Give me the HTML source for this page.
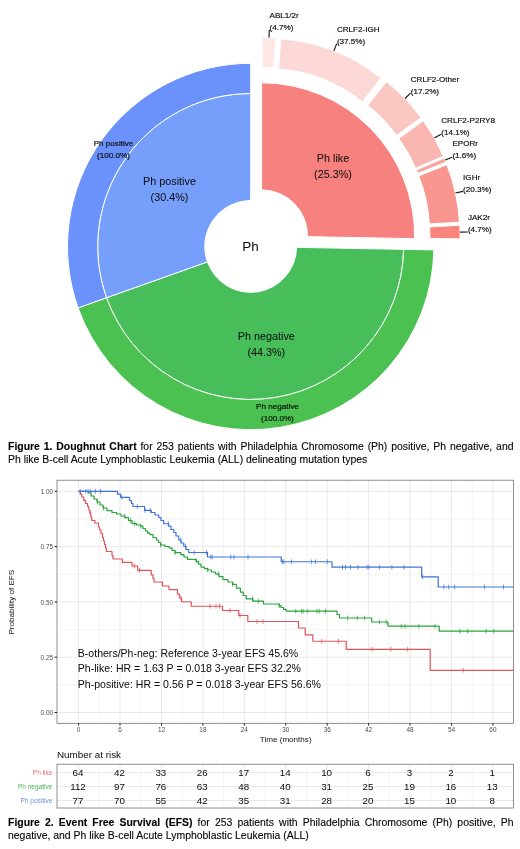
<!DOCTYPE html>
<html><head><meta charset="utf-8"><title>Figure</title>
<style>
html,body{margin:0;padding:0;background:#fff;}
body{width:520px;height:849px;position:relative;overflow:hidden;font-family:"Liberation Sans",sans-serif;}
svg{position:absolute;left:0;top:0;will-change:transform;}
svg text{font-family:"Liberation Sans",sans-serif;fill:#0a0a0a;}
.dl{stroke:#0a0a0a;stroke-width:0.16px;}
.dl{font-size:8.1px;}
.pl{font-size:10.8px;}
.ct{font-size:13.5px;}
.ax{font-size:6.4px;fill:#4d4d4d;}
.at{font-size:8.1px;fill:#111;}
.an{font-size:10.55px;}
.nr{font-size:9.85px;}
.rv{font-size:9.8px;}
.rl{font-size:6.55px;}
.cap{will-change:transform;position:absolute;left:7.5px;width:505.5px;font-size:10.45px;line-height:14px;color:#000;white-space:nowrap;-webkit-text-stroke:0.1px #000;}
.j{text-align:justify;text-align-last:justify;}
</style></head><body>
<svg width="520" height="849" viewBox="0 0 520 849">
<g id="donut">
<path d="M403.67,249.35A153.00,153.00 0 0 1 106.53,297.74L207.45,261.87A45.90,45.90 0 0 0 296.59,247.35Z" fill="#47BE5A" stroke="#fff" stroke-width="1.0"/>
<path d="M106.53,297.74A153.00,153.00 0 0 1 250.70,93.50L250.70,200.60A45.90,45.90 0 0 0 207.45,261.87Z" fill="#769FFB" stroke="#fff" stroke-width="1.0"/>
<path d="M261.62,82.78A153.00,153.00 0 0 1 414.59,238.63L307.51,236.64A45.90,45.90 0 0 0 261.62,189.88Z" fill="#F6817E" stroke="#fff" stroke-width="1.0"/>
<path d="M433.87,249.91A183.20,183.20 0 0 1 78.08,307.85L106.53,297.74A153.00,153.00 0 0 0 403.67,249.35Z" fill="#4AC150" stroke="#fff" stroke-width="1.0"/>
<path d="M78.08,307.85A183.20,183.20 0 0 1 250.70,63.30L250.70,93.50A153.00,153.00 0 0 0 106.53,297.74Z" fill="#6A92FA" stroke="#fff" stroke-width="1.0"/>
<path d="M262.19,37.29A183.20,183.20 0 0 1 275.83,37.80L273.58,67.92A153.00,153.00 0 0 0 262.19,67.49Z" fill="#FDE7E5" stroke="#fff" stroke-width="1.0"/>
<path d="M280.82,38.84A183.20,183.20 0 0 1 381.03,78.00L362.26,101.66A153.00,153.00 0 0 0 278.58,68.96Z" fill="#FCD9D6" stroke="#fff" stroke-width="1.0"/>
<path d="M386.51,81.67A183.20,183.20 0 0 1 421.02,117.70L396.56,135.42A153.00,153.00 0 0 0 367.75,105.33Z" fill="#FBC7C3" stroke="#fff" stroke-width="1.0"/>
<path d="M423.28,120.74A183.20,183.20 0 0 1 443.42,156.30L415.64,168.16A153.00,153.00 0 0 0 398.82,138.47Z" fill="#FAB6B1" stroke="#fff" stroke-width="1.0"/>
<path d="M444.25,158.01A183.20,183.20 0 0 1 445.98,162.21L417.92,173.38A153.00,153.00 0 0 0 416.47,169.87Z" fill="#F9A59F" stroke="#fff" stroke-width="1.0"/>
<path d="M446.78,164.75A183.20,183.20 0 0 1 459.47,222.25L429.32,223.94A153.00,153.00 0 0 0 418.72,175.91Z" fill="#F8958E" stroke="#fff" stroke-width="1.0"/>
<path d="M459.83,225.27A183.20,183.20 0 0 1 460.08,238.91L429.89,238.35A153.00,153.00 0 0 0 429.68,226.95Z" fill="#F8847C" stroke="#fff" stroke-width="1.0"/>
<path d="M269.01,37.42L269.30,29.78" stroke="#111" stroke-width="1.1" fill="none"/>
<text x="269.5" y="18.2" class="dl">ABL1/2r</text>
<text x="269.5" y="30.2" class="dl">(4.7%)</text>
<path d="M333.87,50.90L336.65,43.77" stroke="#111" stroke-width="1.1" fill="none"/>
<text x="336.9" y="32.2" class="dl">CRLF2-IGH</text>
<text x="336.9" y="44.2" class="dl">(37.5%)</text>
<path d="M405.00,98.50L410.52,93.21" stroke="#111" stroke-width="1.1" fill="none"/>
<text x="410.7" y="81.6" class="dl">CRLF2-Other</text>
<text x="410.7" y="93.6" class="dl">(17.2%)</text>
<path d="M434.34,137.96L441.00,134.19" stroke="#111" stroke-width="1.1" fill="none"/>
<text x="441.2" y="122.6" class="dl">CRLF2-P2RY8</text>
<text x="441.2" y="134.6" class="dl">(14.1%)</text>
<path d="M445.13,160.10L452.20,157.19" stroke="#111" stroke-width="1.1" fill="none"/>
<text x="452.4" y="145.6" class="dl">EPORr</text>
<text x="452.4" y="157.6" class="dl">(1.6%)</text>
<path d="M455.45,192.99L462.92,191.34" stroke="#111" stroke-width="1.1" fill="none"/>
<text x="463.1" y="179.7" class="dl">IGHr</text>
<text x="463.1" y="191.7" class="dl">(20.3%)</text>
<path d="M460.08,232.09L467.73,231.94" stroke="#111" stroke-width="1.1" fill="none"/>
<text x="467.9" y="220.3" class="dl">JAK2r</text>
<text x="467.9" y="232.3" class="dl">(4.7%)</text>
<text x="113.5" y="146.4" class="dl" text-anchor="middle">Ph positive</text>
<text x="113.5" y="158" class="dl" text-anchor="middle">(100.0%)</text>
<text x="277.4" y="409.2" class="dl" text-anchor="middle">Ph negative</text>
<text x="277.4" y="420.8" class="dl" text-anchor="middle">(100.0%)</text>
<text x="169.5" y="185.4" class="pl" text-anchor="middle">Ph positive</text>
<text x="169.5" y="201.3" class="pl" text-anchor="middle">(30.4%)</text>
<text x="333" y="161.5" class="pl" text-anchor="middle">Ph like</text>
<text x="333" y="177.7" class="pl" text-anchor="middle">(25.3%)</text>
<text x="266.3" y="340.2" class="pl" text-anchor="middle">Ph negative</text>
<text x="266.3" y="356.3" class="pl" text-anchor="middle">(44.3%)</text>
<text x="250.5" y="251" class="ct" text-anchor="middle">Ph</text>
</g>
<g id="km">
<rect x="57.0" y="480.2" width="456.5" height="243.09999999999997" fill="#fff"/>
<path d="M99.31,480.2V723.3" stroke="#EDEDED" stroke-width="0.6"/>
<path d="M140.75,480.2V723.3" stroke="#EDEDED" stroke-width="0.6"/>
<path d="M182.18,480.2V723.3" stroke="#EDEDED" stroke-width="0.6"/>
<path d="M223.60,480.2V723.3" stroke="#EDEDED" stroke-width="0.6"/>
<path d="M265.03,480.2V723.3" stroke="#EDEDED" stroke-width="0.6"/>
<path d="M306.47,480.2V723.3" stroke="#EDEDED" stroke-width="0.6"/>
<path d="M347.89,480.2V723.3" stroke="#EDEDED" stroke-width="0.6"/>
<path d="M389.33,480.2V723.3" stroke="#EDEDED" stroke-width="0.6"/>
<path d="M430.75,480.2V723.3" stroke="#EDEDED" stroke-width="0.6"/>
<path d="M472.19,480.2V723.3" stroke="#EDEDED" stroke-width="0.6"/>
<path d="M57.0,684.85H513.5" stroke="#EDEDED" stroke-width="0.6"/>
<path d="M57.0,629.55H513.5" stroke="#EDEDED" stroke-width="0.6"/>
<path d="M57.0,574.25H513.5" stroke="#EDEDED" stroke-width="0.6"/>
<path d="M57.0,518.95H513.5" stroke="#EDEDED" stroke-width="0.6"/>
<path d="M78.60,480.2V723.3" stroke="#E3E3E3" stroke-width="0.8"/>
<path d="M120.03,480.2V723.3" stroke="#E3E3E3" stroke-width="0.8"/>
<path d="M161.46,480.2V723.3" stroke="#E3E3E3" stroke-width="0.8"/>
<path d="M202.89,480.2V723.3" stroke="#E3E3E3" stroke-width="0.8"/>
<path d="M244.32,480.2V723.3" stroke="#E3E3E3" stroke-width="0.8"/>
<path d="M285.75,480.2V723.3" stroke="#E3E3E3" stroke-width="0.8"/>
<path d="M327.18,480.2V723.3" stroke="#E3E3E3" stroke-width="0.8"/>
<path d="M368.61,480.2V723.3" stroke="#E3E3E3" stroke-width="0.8"/>
<path d="M410.04,480.2V723.3" stroke="#E3E3E3" stroke-width="0.8"/>
<path d="M451.47,480.2V723.3" stroke="#E3E3E3" stroke-width="0.8"/>
<path d="M492.90,480.2V723.3" stroke="#E3E3E3" stroke-width="0.8"/>
<path d="M57.0,712.50H513.5" stroke="#E3E3E3" stroke-width="0.8"/>
<path d="M57.0,657.20H513.5" stroke="#E3E3E3" stroke-width="0.8"/>
<path d="M57.0,601.90H513.5" stroke="#E3E3E3" stroke-width="0.8"/>
<path d="M57.0,546.60H513.5" stroke="#E3E3E3" stroke-width="0.8"/>
<path d="M57.0,491.30H513.5" stroke="#E3E3E3" stroke-width="0.8"/>
<path d="M78.60,491.30H80.30V494.20H81.90V497.00H83.80V500.40H85.60V503.50H87.60V506.50H88.80V510.00H89.80V513.50H90.80V517.00H91.80V520.50H94.90V523.00H98.40V527.00H99.50V530.00H101.00V533.50H102.50V537.50H103.50V541.00H104.50V544.50H105.50V548.00H106.30V551.50H112.00V555.50H113.00V559.00H122.30V562.30H132.00V566.00H137.70V570.40H151.20V574.80H153.00V578.50H154.00V582.00H162.50V586.00H169.00V589.60H177.50V594.20H179.50V598.00H181.50V601.75H191.25V606.25H222.50V610.50H238.75V615.50H247.80V621.50H298.50V628.00H305.20V634.80H312.80V641.25H346.25V649.30H430.20V670.30H513.4" stroke="#E2545A" stroke-width="1.2" fill="none" stroke-linejoin="round"/>
<path d="M90.6,511.10v4.8M134.5,563.60v4.8M139.6,568.00v4.8M181.0,595.60v4.8M210.0,603.85v4.8M216.0,603.85v4.8M219.5,603.85v4.8M230.0,608.10v4.8M240.0,613.10v4.8M257.0,619.10v4.8M263.0,619.10v4.8M321.7,638.85v4.8M338.4,638.85v4.8M372.3,646.90v4.8M390.8,646.90v4.8M407.7,646.90v4.8M463.2,667.90v4.8" stroke="#E2545A" stroke-width="0.75" fill="none"/>
<path d="M78.60,491.30H88.50V493.00H91.00V496.00H94.00V499.00H97.00V502.00H100.00V505.00H103.00V508.00H107.00V510.70H112.00V512.50H116.50V514.00H121.00V516.00H125.20V517.60H128.50V520.50H132.00V523.70H136.50V525.00H140.70V526.20H143.00V528.50H145.50V531.00H147.70V533.20H150.00V534.60H153.00V537.50H156.30V540.00H158.50V542.50H160.60V545.00H165.00V546.50H169.20V547.90H172.00V550.30H175.00V552.70H180.80V554.60H184.00V557.00H187.50V559.40H196.20V561.30H198.50V564.20H201.00V567.10H204.50V568.60H207.70V570.00H211.50V572.00H215.40V573.80H219.00V576.70H223.00V579.60H228.00V582.00H232.70V584.40H236.50V588.20H240.40V592.10H243.30V595.50H246.20V598.80H253.00V601.20H263.50V604.00H279.00V605.70H281.00V607.50H283.50V609.30H286.20V611.20H337.00V614.50H339.50V618.00H371.70V622.00H388.00V626.20H439.20V631.20H513.4" stroke="#2BA23A" stroke-width="1.2" fill="none" stroke-linejoin="round"/>
<path d="M97.5,499.60v4.8M103.5,505.60v4.8M124.3,513.60v4.8M130.4,518.10v4.8M134.7,521.30v4.8M140.7,523.80v4.8M160.6,542.60v4.8M175.0,550.30v4.8M196.2,558.90v4.8M207.7,567.60v4.8M218.3,571.40v4.8M232.7,582.00v4.8M252.5,596.40v4.8M258.3,598.80v4.8M279.4,603.30v4.8M295.8,608.80v4.8M301.5,608.80v4.8M303.2,608.80v4.8M307.7,608.80v4.8M317.0,608.80v4.8M319.2,608.80v4.8M325.6,608.80v4.8M347.7,615.60v4.8M357.3,615.60v4.8M364.6,615.60v4.8M379.4,619.60v4.8M386.2,619.60v4.8M401.2,623.80v4.8M405.0,623.80v4.8M418.8,623.80v4.8M435.0,623.80v4.8M459.8,628.80v4.8M467.7,628.80v4.8M486.2,628.80v4.8M493.7,628.80v4.8" stroke="#2BA23A" stroke-width="0.75" fill="none"/>
<path d="M78.60,491.30H117.50V494.20H120.50V497.30H129.50V500.50H131.50V503.50H133.00V506.50H144.60V510.40H151.30V512.50H155.00V515.00H158.75V517.50H161.00V520.50H163.75V523.75H168.75V526.25H171.00V529.50H173.75V532.50H176.00V536.00H178.75V540.00H181.00V543.00H183.75V546.25H186.00V549.50H188.75V552.50H207.50V557.00H281.25V561.75H332.00V567.20H421.70V576.80H438.20V587.00H513.4" stroke="#3F72DC" stroke-width="1.2" fill="none" stroke-linejoin="round"/>
<path d="M80.2,488.90v4.8M85.7,488.90v4.8M88.0,488.90v4.8M90.6,488.90v4.8M95.4,488.90v4.8M100.6,488.90v4.8M121.7,494.90v4.8M137.3,504.10v4.8M145.0,508.00v4.8M150.3,508.00v4.8M168.3,521.35v4.8M180.8,537.60v4.8M185.6,543.85v4.8M194.2,550.10v4.8M206.7,550.10v4.8M210.8,554.60v4.8M212.2,554.60v4.8M230.8,554.60v4.8M234.0,554.60v4.8M248.0,554.60v4.8M282.5,559.35v4.8M284.0,559.35v4.8M291.4,559.35v4.8M311.4,559.35v4.8M315.5,559.35v4.8M327.3,559.35v4.8M342.5,564.80v4.8M345.5,564.80v4.8M350.5,564.80v4.8M358.0,564.80v4.8M367.0,564.80v4.8M369.0,564.80v4.8M379.4,564.80v4.8M391.9,564.80v4.8M404.0,564.80v4.8M422.7,574.40v4.8M443.8,584.60v4.8M448.7,584.60v4.8M454.6,584.60v4.8M484.5,584.60v4.8M503.5,584.60v4.8" stroke="#3F72DC" stroke-width="0.75" fill="none"/>
<rect x="57.0" y="480.2" width="456.5" height="243.09999999999997" fill="none" stroke="#6a6a6a" stroke-width="0.75"/>
<path d="M78.60,723.3v2.4" stroke="#222" stroke-width="1"/>
<text x="78.60" y="732.2" class="ax" text-anchor="middle">0</text>
<path d="M120.03,723.3v2.4" stroke="#222" stroke-width="1"/>
<text x="120.03" y="732.2" class="ax" text-anchor="middle">6</text>
<path d="M161.46,723.3v2.4" stroke="#222" stroke-width="1"/>
<text x="161.46" y="732.2" class="ax" text-anchor="middle">12</text>
<path d="M202.89,723.3v2.4" stroke="#222" stroke-width="1"/>
<text x="202.89" y="732.2" class="ax" text-anchor="middle">18</text>
<path d="M244.32,723.3v2.4" stroke="#222" stroke-width="1"/>
<text x="244.32" y="732.2" class="ax" text-anchor="middle">24</text>
<path d="M285.75,723.3v2.4" stroke="#222" stroke-width="1"/>
<text x="285.75" y="732.2" class="ax" text-anchor="middle">30</text>
<path d="M327.18,723.3v2.4" stroke="#222" stroke-width="1"/>
<text x="327.18" y="732.2" class="ax" text-anchor="middle">36</text>
<path d="M368.61,723.3v2.4" stroke="#222" stroke-width="1"/>
<text x="368.61" y="732.2" class="ax" text-anchor="middle">42</text>
<path d="M410.04,723.3v2.4" stroke="#222" stroke-width="1"/>
<text x="410.04" y="732.2" class="ax" text-anchor="middle">48</text>
<path d="M451.47,723.3v2.4" stroke="#222" stroke-width="1"/>
<text x="451.47" y="732.2" class="ax" text-anchor="middle">54</text>
<path d="M492.90,723.3v2.4" stroke="#222" stroke-width="1"/>
<text x="492.90" y="732.2" class="ax" text-anchor="middle">60</text>
<path d="M57.0,712.50h-2.4" stroke="#222" stroke-width="1"/>
<text x="53" y="715.20" class="ax" text-anchor="end">0.00</text>
<path d="M57.0,657.20h-2.4" stroke="#222" stroke-width="1"/>
<text x="53" y="659.90" class="ax" text-anchor="end">0.25</text>
<path d="M57.0,601.90h-2.4" stroke="#222" stroke-width="1"/>
<text x="53" y="604.60" class="ax" text-anchor="end">0.50</text>
<path d="M57.0,546.60h-2.4" stroke="#222" stroke-width="1"/>
<text x="53" y="549.30" class="ax" text-anchor="end">0.75</text>
<path d="M57.0,491.30h-2.4" stroke="#222" stroke-width="1"/>
<text x="53" y="494.00" class="ax" text-anchor="end">1.00</text>
<text x="285.7" y="741.6" class="at" text-anchor="middle">Time (months)</text>
<text transform="translate(13.9,602.2) rotate(-90)" class="at" text-anchor="middle">Probability of EFS</text>
<text x="77.8" y="656.9" class="an">B-others/Ph-neg: Reference 3-year EFS 45.6%</text>
<text x="77.8" y="672.3" class="an">Ph-like: HR = 1.63 P = 0.018 3-year EFS 32.2%</text>
<text x="77.8" y="687.6" class="an">Ph-positive: HR = 0.56 P = 0.018 3-year EFS 56.6%</text>
</g>
<g id="risk">
<text x="57" y="758.2" class="nr">Number at risk</text>
<path d="M99.31,764.2V808.0" stroke="#EDEDED" stroke-width="0.6"/>
<path d="M140.75,764.2V808.0" stroke="#EDEDED" stroke-width="0.6"/>
<path d="M182.18,764.2V808.0" stroke="#EDEDED" stroke-width="0.6"/>
<path d="M223.60,764.2V808.0" stroke="#EDEDED" stroke-width="0.6"/>
<path d="M265.03,764.2V808.0" stroke="#EDEDED" stroke-width="0.6"/>
<path d="M306.47,764.2V808.0" stroke="#EDEDED" stroke-width="0.6"/>
<path d="M347.89,764.2V808.0" stroke="#EDEDED" stroke-width="0.6"/>
<path d="M389.33,764.2V808.0" stroke="#EDEDED" stroke-width="0.6"/>
<path d="M430.75,764.2V808.0" stroke="#EDEDED" stroke-width="0.6"/>
<path d="M472.19,764.2V808.0" stroke="#EDEDED" stroke-width="0.6"/>
<path d="M78.60,764.2V808.0" stroke="#E3E3E3" stroke-width="0.8"/>
<path d="M120.03,764.2V808.0" stroke="#E3E3E3" stroke-width="0.8"/>
<path d="M161.46,764.2V808.0" stroke="#E3E3E3" stroke-width="0.8"/>
<path d="M202.89,764.2V808.0" stroke="#E3E3E3" stroke-width="0.8"/>
<path d="M244.32,764.2V808.0" stroke="#E3E3E3" stroke-width="0.8"/>
<path d="M285.75,764.2V808.0" stroke="#E3E3E3" stroke-width="0.8"/>
<path d="M327.18,764.2V808.0" stroke="#E3E3E3" stroke-width="0.8"/>
<path d="M368.61,764.2V808.0" stroke="#E3E3E3" stroke-width="0.8"/>
<path d="M410.04,764.2V808.0" stroke="#E3E3E3" stroke-width="0.8"/>
<path d="M451.47,764.2V808.0" stroke="#E3E3E3" stroke-width="0.8"/>
<path d="M492.90,764.2V808.0" stroke="#E3E3E3" stroke-width="0.8"/>
<path d="M57.0,772.6H513.5" stroke="#E3E3E3" stroke-width="0.8"/>
<path d="M57.0,786.5H513.5" stroke="#E3E3E3" stroke-width="0.8"/>
<path d="M57.0,800.5H513.5" stroke="#E3E3E3" stroke-width="0.8"/>
<text x="52.5" y="774.8000000000001" class="rl" style="fill:#E6707A" text-anchor="end">Ph like</text>
<text x="78.00" y="776.0" class="rv" text-anchor="middle">64</text>
<text x="119.43" y="776.0" class="rv" text-anchor="middle">42</text>
<text x="160.86" y="776.0" class="rv" text-anchor="middle">33</text>
<text x="202.29" y="776.0" class="rv" text-anchor="middle">26</text>
<text x="243.72" y="776.0" class="rv" text-anchor="middle">17</text>
<text x="285.15" y="776.0" class="rv" text-anchor="middle">14</text>
<text x="326.58" y="776.0" class="rv" text-anchor="middle">10</text>
<text x="368.01" y="776.0" class="rv" text-anchor="middle">6</text>
<text x="409.44" y="776.0" class="rv" text-anchor="middle">3</text>
<text x="450.87" y="776.0" class="rv" text-anchor="middle">2</text>
<text x="492.30" y="776.0" class="rv" text-anchor="middle">1</text>
<text x="52.5" y="788.7" class="rl" style="fill:#4DB65C" text-anchor="end">Ph negative</text>
<text x="78.00" y="789.9" class="rv" text-anchor="middle">112</text>
<text x="119.43" y="789.9" class="rv" text-anchor="middle">97</text>
<text x="160.86" y="789.9" class="rv" text-anchor="middle">76</text>
<text x="202.29" y="789.9" class="rv" text-anchor="middle">63</text>
<text x="243.72" y="789.9" class="rv" text-anchor="middle">48</text>
<text x="285.15" y="789.9" class="rv" text-anchor="middle">40</text>
<text x="326.58" y="789.9" class="rv" text-anchor="middle">31</text>
<text x="368.01" y="789.9" class="rv" text-anchor="middle">25</text>
<text x="409.44" y="789.9" class="rv" text-anchor="middle">19</text>
<text x="450.87" y="789.9" class="rv" text-anchor="middle">16</text>
<text x="492.30" y="789.9" class="rv" text-anchor="middle">13</text>
<text x="52.5" y="802.7" class="rl" style="fill:#6B93E2" text-anchor="end">Ph positive</text>
<text x="78.00" y="803.9" class="rv" text-anchor="middle">77</text>
<text x="119.43" y="803.9" class="rv" text-anchor="middle">70</text>
<text x="160.86" y="803.9" class="rv" text-anchor="middle">55</text>
<text x="202.29" y="803.9" class="rv" text-anchor="middle">42</text>
<text x="243.72" y="803.9" class="rv" text-anchor="middle">35</text>
<text x="285.15" y="803.9" class="rv" text-anchor="middle">31</text>
<text x="326.58" y="803.9" class="rv" text-anchor="middle">28</text>
<text x="368.01" y="803.9" class="rv" text-anchor="middle">20</text>
<text x="409.44" y="803.9" class="rv" text-anchor="middle">15</text>
<text x="450.87" y="803.9" class="rv" text-anchor="middle">10</text>
<text x="492.30" y="803.9" class="rv" text-anchor="middle">8</text>
<rect x="57.0" y="764.2" width="456.5" height="43.799999999999955" fill="none" stroke="#6a6a6a" stroke-width="0.75"/>
</g>
</svg>
<div class="cap j" style="top:440px;"><b>Figure 1. Doughnut Chart</b> for 253 patients with Philadelphia Chromosome (Ph) positive, Ph negative, and</div>
<div class="cap" style="top:452.6px;">Ph like B-cell Acute Lymphoblastic Leukemia (ALL) delineating mutation types</div>
<div class="cap j" style="top:816px;"><b>Figure 2. Event Free Survival (EFS)</b> for 253 patients with Philadelphia Chromosome (Ph) positive, Ph</div>
<div class="cap" style="top:828.7px;">negative, and Ph like B-cell Acute Lymphoblastic Leukemia (ALL)</div>
</body></html>
